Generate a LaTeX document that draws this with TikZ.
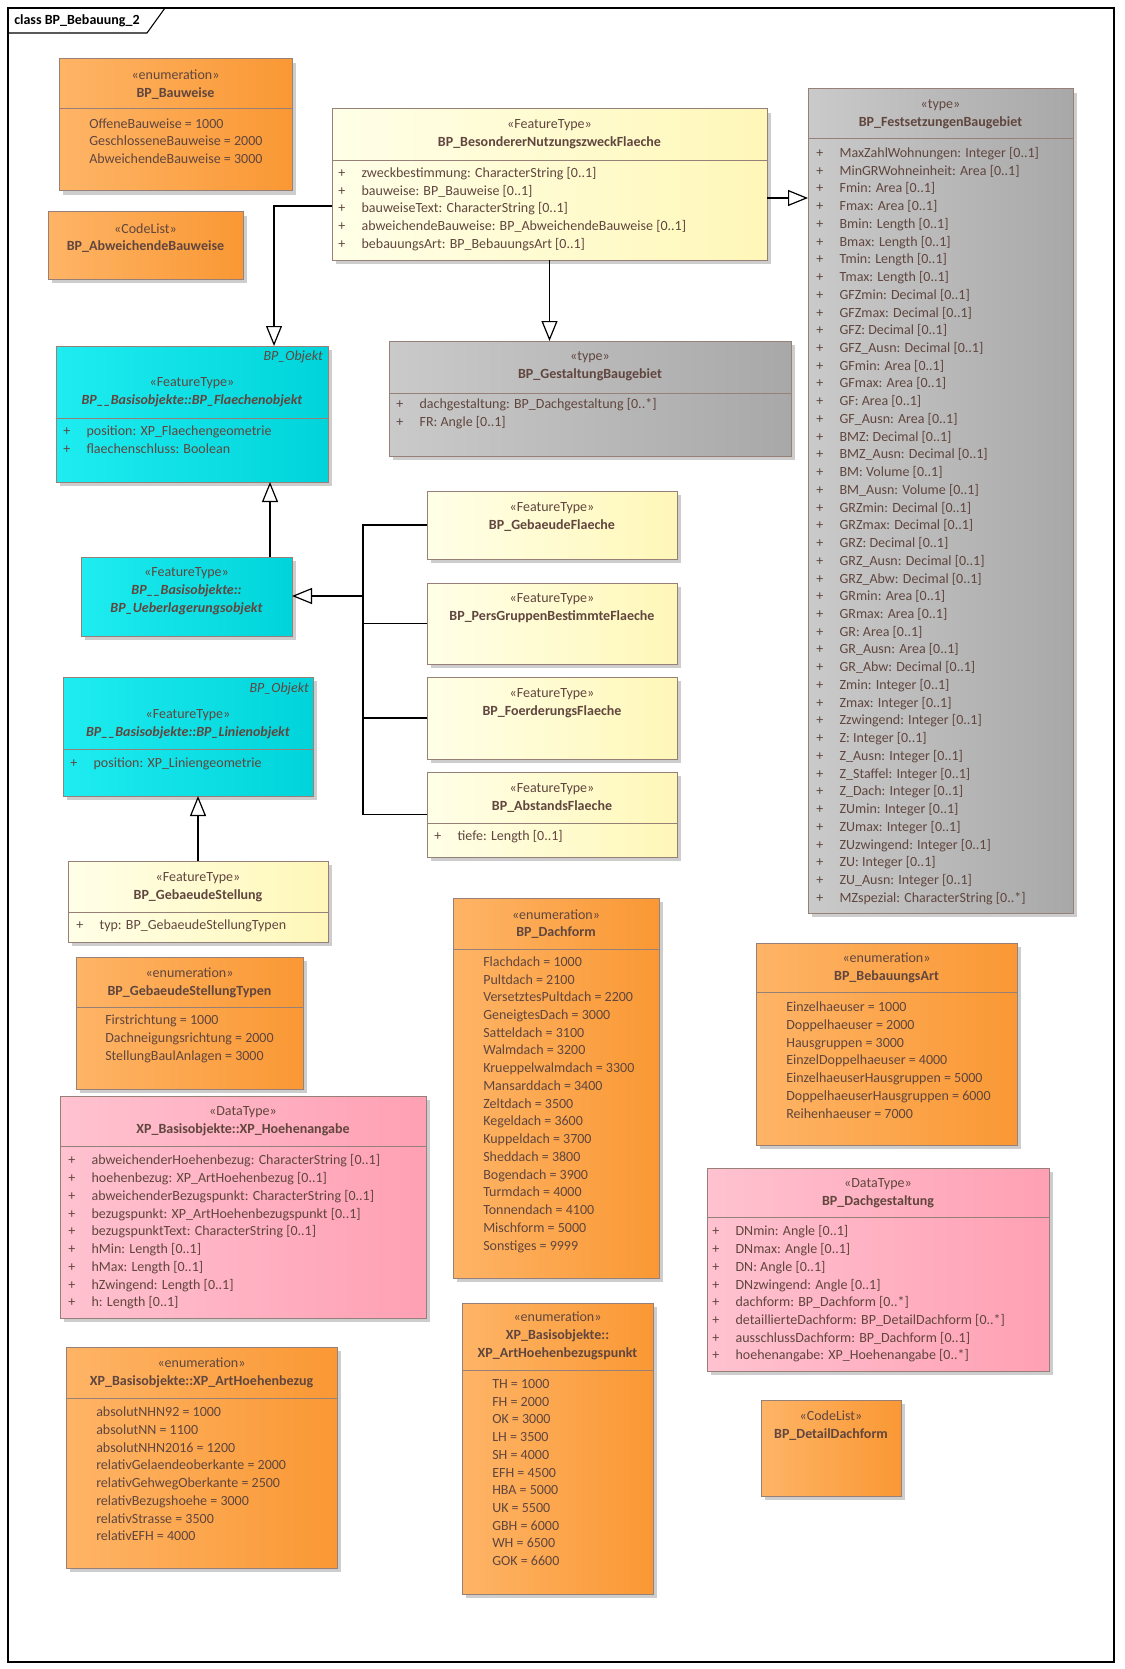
\documentclass[tikz,border=0pt]{standalone}
\usepackage{fontspec}
\setmainfont{Carlito}
\usetikzlibrary{arrows.meta,shadows,positioning}

\definecolor{txt}{RGB}{96,70,62}
\definecolor{boxline}{RGB}{150,128,120}
\definecolor{shade}{RGB}{205,205,205}
\definecolor{enumL}{RGB}{254,180,102}
\definecolor{enumR}{RGB}{250,152,52}
\definecolor{featL}{RGB}{255,255,232}
\definecolor{featR}{RGB}{255,247,184}
\definecolor{typeL}{RGB}{202,202,202}
\definecolor{typeR}{RGB}{168,168,168}
\definecolor{cyanL}{RGB}{30,236,240}
\definecolor{cyanR}{RGB}{0,212,218}
\definecolor{pinkL}{RGB}{255,194,208}
\definecolor{pinkR}{RGB}{255,160,180}

\newcommand{\plus}{\makebox[17.5pt][l]{+}}

\tikzset{
	cls/.style={draw=boxline, line width=0.75pt, inner sep=0pt, outer sep=0pt,
		anchor=north west,
		drop shadow={shadow xshift=3pt, shadow yshift=-3pt, fill=shade, opacity=1}},
	dims/.style 2 args={minimum width=#1*0.75pt, minimum height=#2*0.75pt},
	enum/.style={cls, left color=enumL, right color=enumR},
	feat/.style={cls, left color=featL, right color=featR},
	gtype/.style={cls, left color=typeL, right color=typeR},
	basis/.style={cls, left color=cyanL, right color=cyanR},
	dtype/.style={cls, left color=pinkL, right color=pinkR},
	head/.style={align=center, text=txt, inner sep=0pt,
		font=\fontsize{10.5}{13.3}\selectfont},
	attrs/.style={align=left, anchor=west, text=txt, inner sep=0pt,
		font=\fontsize{10.5}{13.3}\selectfont},
	sep/.style={draw=boxline, line width=0.75pt},
	gen/.style={-{Triangle[length=15pt, width=12pt, fill=white]}, line width=0.9pt},
	link/.style={line width=0.9pt}
}

\begin{document}
\begin{tikzpicture}[x=0.75pt, y=-0.75pt]
	\useasboundingbox (0,0) rectangle (1124,1669);
	\fill[white] (0,0) rectangle (1124,1669);

	% frame and title
	\draw[line width=0.8pt] (8,8) rectangle (1114,1662);
	\draw[line width=0.8pt] (8,33) -- (147,33) -- (165,8);
	\node[anchor=west, inner sep=0pt, font=\fontsize{10.5}{13.3}\selectfont\bfseries] (title) at (14,21) {class BP\_Bebauung\_2};

	% BP_Bauweise
	\node[enum, dims={233}{132}] (BW) at (59,59) {};
	\draw[sep] (59,109) -- (292,109);
	\node[head] (BWn) at (175.5,84.5) {«enumeration»\\\textbf{BP\_Bauweise}};
	\node[attrs] (BWa) at (89,141) {OffeneBauweise = 1000\\GeschlosseneBauweise = 2000\\AbweichendeBauweise = 3000};

	% BP_AbweichendeBauweise
	\node[enum, dims={195}{67}] (ABW) at (48,212) {};
	\node[head] (ABWn) at (145.5,238) {«CodeList»\\\textbf{BP\_AbweichendeBauweise}};

	% BP_BesondererNutzungszweckFlaeche
	\node[feat, dims={435}{151}] (BN) at (332,109) {};
	\draw[sep] (332,161) -- (767,161);
	\node[head] (BNn) at (549.5,134) {«FeatureType»\\\textbf{BP\_BesondererNutzungszweckFlaeche}};
	\node[attrs] (BNa) at (338,209) {\plus zweckbestimmung: CharacterString [0..1]\\\plus bauweise: BP\_Bauweise [0..1]\\\plus bauweiseText: CharacterString [0..1]\\\plus abweichendeBauweise: BP\_AbweichendeBauweise [0..1]\\\plus bebauungsArt: BP\_BebauungsArt [0..1]};

	% BP_FestsetzungenBaugebiet
	\node[gtype, dims={265}{824}] (FB) at (808,89) {};
	\draw[sep] (808,139) -- (1073,139);
	\node[head] (FBn) at (940.5,114.5) {«type»\\\textbf{BP\_FestsetzungenBaugebiet}};
	\node[attrs] (FBa) at (816,526) {\plus MaxZahlWohnungen: Integer [0..1]\\\plus MinGRWohneinheit: Area [0..1]\\\plus Fmin: Area [0..1]\\\plus Fmax: Area [0..1]\\\plus Bmin: Length [0..1]\\\plus Bmax: Length [0..1]\\\plus Tmin: Length [0..1]\\\plus Tmax: Length [0..1]\\\plus GFZmin: Decimal [0..1]\\\plus GFZmax: Decimal [0..1]\\\plus GFZ: Decimal [0..1]\\\plus GFZ\_Ausn: Decimal [0..1]\\\plus GFmin: Area [0..1]\\\plus GFmax: Area [0..1]\\\plus GF: Area [0..1]\\\plus GF\_Ausn: Area [0..1]\\\plus BMZ: Decimal [0..1]\\\plus BMZ\_Ausn: Decimal [0..1]\\\plus BM: Volume [0..1]\\\plus BM\_Ausn: Volume [0..1]\\\plus GRZmin: Decimal [0..1]\\\plus GRZmax: Decimal [0..1]\\\plus GRZ: Decimal [0..1]\\\plus GRZ\_Ausn: Decimal [0..1]\\\plus GRZ\_Abw: Decimal [0..1]\\\plus GRmin: Area [0..1]\\\plus GRmax: Area [0..1]\\\plus GR: Area [0..1]\\\plus GR\_Ausn: Area [0..1]\\\plus GR\_Abw: Decimal [0..1]\\\plus Zmin: Integer [0..1]\\\plus Zmax: Integer [0..1]\\\plus Zzwingend: Integer [0..1]\\\plus Z: Integer [0..1]\\\plus Z\_Ausn: Integer [0..1]\\\plus Z\_Staffel: Integer [0..1]\\\plus Z\_Dach: Integer [0..1]\\\plus ZUmin: Integer [0..1]\\\plus ZUmax: Integer [0..1]\\\plus ZUzwingend: Integer [0..1]\\\plus ZU: Integer [0..1]\\\plus ZU\_Ausn: Integer [0..1]\\\plus MZspezial: CharacterString [0..*]};

	% BP_GestaltungBaugebiet
	\node[gtype, dims={402}{115}] (GB) at (389,341) {};
	\draw[sep] (389,393) -- (791,393);
	\node[head] (GBn) at (590,366) {«type»\\\textbf{BP\_GestaltungBaugebiet}};
	\node[attrs] (GBa) at (396,414) {\plus dachgestaltung: BP\_Dachgestaltung [0..*]\\\plus FR: Angle [0..1]};

	% BP_Flaechenobjekt
	\node[basis, dims={272}{136}] (FL) at (56,346) {};
	\draw[sep] (56,418) -- (328,418);
	\node[head, anchor=east, font=\fontsize{10.5}{13.3}\selectfont\itshape] (FLp) at (323,357) {BP\_Objekt};
	\node[head] (FLn) at (192,392) {«FeatureType»\\\textbf{\textit{BP\_\_Basisobjekte::BP\_Flaechenobjekt}}};
	\node[attrs] (FLa) at (63,440) {\plus position: XP\_Flaechengeometrie\\\plus flaechenschluss: Boolean};

	% BP_Ueberlagerungsobjekt
	\node[basis, dims={211}{79}] (UE) at (81,557) {};
	\node[head] (UEn) at (186.5,591) {«FeatureType»\\\textbf{\textit{BP\_\_Basisobjekte::}}\\\textbf{\textit{BP\_Ueberlagerungsobjekt}}};

	% feature types on the right
	\node[feat, dims={250}{68}] (GF) at (427,491) {};
	\node[head] (GFn) at (552,517) {«FeatureType»\\\textbf{BP\_GebaeudeFlaeche}};
	\node[feat, dims={250}{81}] (PG) at (427,583) {};
	\node[head] (PGn) at (552,608) {«FeatureType»\\\textbf{BP\_PersGruppenBestimmteFlaeche}};
	\node[feat, dims={250}{82}] (FF) at (427,677) {};
	\node[head] (FFn) at (552,703) {«FeatureType»\\\textbf{BP\_FoerderungsFlaeche}};
	\node[feat, dims={250}{85}] (AF) at (427,772) {};
	\draw[sep] (427,823) -- (677,823);
	\node[head] (AFn) at (552,798) {«FeatureType»\\\textbf{BP\_AbstandsFlaeche}};
	\node[attrs] (AFa) at (434,837) {\plus tiefe: Length [0..1]};

	% BP_Linienobjekt
	\node[basis, dims={250}{119}] (LO) at (63,677) {};
	\draw[sep] (63,749) -- (313,749);
	\node[head, anchor=east, font=\fontsize{10.5}{13.3}\selectfont\itshape] (LOp) at (309,689) {BP\_Objekt};
	\node[head] (LOn) at (188,724.5) {«FeatureType»\\\textbf{\textit{BP\_\_Basisobjekte::BP\_Linienobjekt}}};
	\node[attrs] (LOa) at (70,764) {\plus position: XP\_Liniengeometrie};

	% BP_GebaeudeStellung
	\node[feat, dims={260}{81}] (GS) at (68,861) {};
	\draw[sep] (68,912) -- (328,912);
	\node[head] (GSn) at (198,887) {«FeatureType»\\\textbf{BP\_GebaeudeStellung}};
	\node[attrs] (GSa) at (76,926) {\plus typ: BP\_GebaeudeStellungTypen};

	% BP_GebaeudeStellungTypen
	\node[enum, dims={227}{132}] (GT) at (76,957) {};
	\draw[sep] (76,1007) -- (303,1007);
	\node[head] (GTn) at (189.5,982.5) {«enumeration»\\\textbf{BP\_GebaeudeStellungTypen}};
	\node[attrs] (GTa) at (105,1039) {Firstrichtung = 1000\\Dachneigungsrichtung = 2000\\StellungBaulAnlagen = 3000};

	% XP_Hoehenangabe
	\node[dtype, dims={366}{222}] (HA) at (60,1096) {};
	\draw[sep] (60,1146) -- (426,1146);
	\node[head] (HAn) at (243,1121.5) {«DataType»\\\textbf{XP\_Basisobjekte::XP\_Hoehenangabe}};
	\node[attrs] (HAa) at (68,1232) {\plus abweichenderHoehenbezug: CharacterString [0..1]\\\plus hoehenbezug: XP\_ArtHoehenbezug [0..1]\\\plus abweichenderBezugspunkt: CharacterString [0..1]\\\plus bezugspunkt: XP\_ArtHoehenbezugspunkt [0..1]\\\plus bezugspunktText: CharacterString [0..1]\\\plus hMin: Length [0..1]\\\plus hMax: Length [0..1]\\\plus hZwingend: Length [0..1]\\\plus h: Length [0..1]};

	% BP_Dachform
	\node[enum, dims={206}{380}] (DF) at (453,898) {};
	\draw[sep] (453,949) -- (659,949);
	\node[head] (DFn) at (556,924) {«enumeration»\\\textbf{BP\_Dachform}};
	\node[attrs] (DFa) at (483,1104.5) {Flachdach = 1000\\Pultdach = 2100\\VersetztesPultdach = 2200\\GeneigtesDach = 3000\\Satteldach = 3100\\Walmdach = 3200\\Krueppelwalmdach = 3300\\Mansarddach = 3400\\Zeltdach = 3500\\Kegeldach = 3600\\Kuppeldach = 3700\\Sheddach = 3800\\Bogendach = 3900\\Turmdach = 4000\\Tonnendach = 4100\\Mischform = 5000\\Sonstiges = 9999};

	% BP_BebauungsArt
	\node[enum, dims={261}{202}] (BA) at (756,943) {};
	\draw[sep] (756,992) -- (1017,992);
	\node[head] (BAn) at (886.5,967.5) {«enumeration»\\\textbf{BP\_BebauungsArt}};
	\node[attrs] (BAa) at (786,1060) {Einzelhaeuser = 1000\\Doppelhaeuser = 2000\\Hausgruppen = 3000\\EinzelDoppelhaeuser = 4000\\EinzelhaeuserHausgruppen = 5000\\DoppelhaeuserHausgruppen = 6000\\Reihenhaeuser = 7000};

	% BP_Dachgestaltung
	\node[dtype, dims={342}{203}] (DG) at (707,1168) {};
	\draw[sep] (707,1217) -- (1049,1217);
	\node[head] (DGn) at (878,1193) {«DataType»\\\textbf{BP\_Dachgestaltung}};
	\node[attrs] (DGa) at (712,1294) {\plus DNmin: Angle [0..1]\\\plus DNmax: Angle [0..1]\\\plus DN: Angle [0..1]\\\plus DNzwingend: Angle [0..1]\\\plus dachform: BP\_Dachform [0..*]\\\plus detaillierteDachform: BP\_DetailDachform [0..*]\\\plus ausschlussDachform: BP\_Dachform [0..1]\\\plus hoehenangabe: XP\_Hoehenangabe [0..*]};

	% XP_ArtHoehenbezug
	\node[enum, dims={271}{221}] (AH) at (66,1347) {};
	\draw[sep] (66,1398) -- (337,1398);
	\node[head] (AHn) at (201.5,1372.5) {«enumeration»\\\textbf{XP\_Basisobjekte::XP\_ArtHoehenbezug}};
	\node[attrs] (AHa) at (96,1474) {absolutNHN92 = 1000\\absolutNN = 1100\\absolutNHN2016 = 1200\\relativGelaendeoberkante = 2000\\relativGehwegOberkante = 2500\\relativBezugshoehe = 3000\\relativStrasse = 3500\\relativEFH = 4000};

	% XP_ArtHoehenbezugspunkt
	\node[enum, dims={191}{291}] (HP) at (462,1303) {};
	\draw[sep] (462,1370) -- (653,1370);
	\node[head] (HPn) at (557.5,1336) {«enumeration»\\\textbf{XP\_Basisobjekte::}\\\textbf{XP\_ArtHoehenbezugspunkt}};
	\node[attrs] (HPa) at (492,1472.5) {TH = 1000\\FH = 2000\\OK = 3000\\LH = 3500\\SH = 4000\\EFH = 4500\\HBA = 5000\\UK = 5500\\GBH = 6000\\WH = 6500\\GOK = 6600};

	% BP_DetailDachform
	\node[enum, dims={140}{96}] (DD) at (761,1400) {};
	\node[head] (DDn) at (831,1425.5) {«CodeList»\\\textbf{BP\_DetailDachform}};

	% generalisations
	\coordinate (k1) at (274,206);
	\coordinate (k2) at (790,198);
	\coordinate (k3) at (270,520);
	\coordinate (bus) at (363,596);
	\draw[gen] (k1 -| BN.west) -- (k1) -- (k1 |- FL.north);
	\draw[gen] (BN.south) -- (BN.south |- GB.north);
	\draw[gen] (k2 -| BN.east) -- (k2 -| FB.west);
	\draw[gen] (k3 |- UE.north) -- (k3 |- FL.south);
	\draw[gen] (bus) -- (bus -| UE.east);
	\draw[link] (GF.west) -| (bus);
	\draw[link] (PG.west) -| (bus);
	\draw[link] (FF.west) -| (bus);
	\draw[link] (AF.west) -| (bus);
	\draw[gen] (GS.north) -- (GS.north |- LO.south);
\end{tikzpicture}
\end{document}
